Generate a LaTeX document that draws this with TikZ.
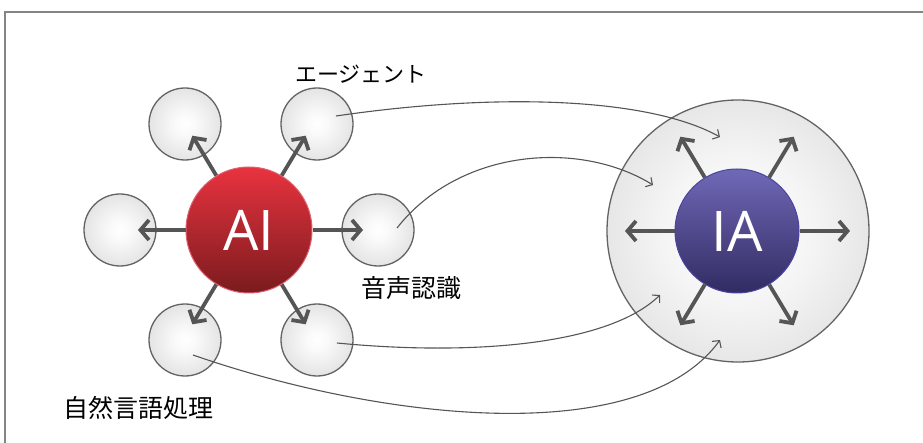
\documentclass[tikz,border=0pt]{standalone}
\usepackage{fontspec}
\newfontfamily\jp{Noto Sans CJK JP}
\newfontfamily\lab{Open Sans}
\usetikzlibrary{arrows.meta,calc}
\definecolor{arrgray}{HTML}{555555}
\definecolor{framegray}{HTML}{858585}
\definecolor{rimgray}{HTML}{636363}
\definecolor{aitop}{HTML}{E8333F}
\definecolor{aibot}{HTML}{7A1B1E}
\definecolor{aiedge}{HTML}{E06070}
\definecolor{iatop}{HTML}{7069B6}
\definecolor{iabot}{HTML}{312B63}
\definecolor{iaedge}{HTML}{4A44A0}
\pgfdeclareradialshading{softsmall}{\pgfpoint{0bp}{0bp}}{%
  color(0bp)=(white); color(7bp)=(white!98!black); color(24bp)=(white!90!black); color(35bp)=(white!80!black); color(50bp)=(white!80!black)}
\pgfdeclareradialshading{softbig}{\pgfpoint{0bp}{0bp}}{%
  color(0bp)=(white); color(14bp)=(white!96!black); color(26bp)=(white!90!black); color(35bp)=(white!81!black); color(50bp)=(white!81!black)}
\tikzset{
  smallc/.style={circle,draw=rimgray,line width=1.3pt,minimum size=72pt,inner sep=0pt,
    shading=softsmall},
  bigc/.style={circle,draw=rimgray,line width=1.3pt,minimum size=262pt,inner sep=0pt,
    shading=softbig},
  hubai/.style={circle,draw=aiedge,line width=1pt,minimum size=126pt,inner sep=0pt,
    top color=aitop,bottom color=aibot,text=white,font=\lab\fontsize{56}{60}\selectfont},
  hubia/.style={circle,draw=iaedge,line width=1pt,minimum size=124pt,inner sep=0pt,
    top color=iatop,bottom color=iabot,text=white,font=\lab\fontsize{56}{60}\selectfont},
  bigarrow/.style={draw=arrgray,line width=3.8pt,-{Straight Barb[length=8.5pt,width=20pt]}},
  link/.style={draw=arrgray,line width=1.1pt,-{Straight Barb[length=5pt,width=11pt]}},
  jplabel/.style={font=\jp\fontsize{25}{28}\selectfont,inner sep=0pt},
}
\begin{document}
\begin{tikzpicture}[x=1pt,y=-1pt]
\useasboundingbox (0,0) rectangle (923,443);
% frame
\draw[framegray,line width=2pt] (5,443) -- (5,12) -- (923,12);
% small circles
\node[smallc] (c1) at (185,124) {};
\node[smallc] (c2) at (317,124) {};
\node[smallc] (c3) at (120,230) {};
\node[smallc] (c4) at (378,230) {};
\node[smallc] (c5) at (185,340) {};
\node[smallc] (c6) at (317,340) {};
% AI hub
\node[hubai] (AI) at (249,230) {AI};
\coordinate (a1) at ($(AI)+(-121:110)$);
\coordinate (a2) at ($(AI)+(-59:110)$);
\coordinate (a3) at ($(AI)+(180:111)$);
\coordinate (a4) at ($(AI)+(0:114)$);
\coordinate (a5) at ($(AI)+(121:110)$);
\coordinate (a6) at ($(AI)+(59:110)$);
\foreach \t in {a1,a2,a3,a4,a5,a6} \draw[bigarrow] (AI) -- (\t);
% IA big circle and hub
\node[bigc] (B) at (738,231) {};
\node[hubia] (IA) at (737,231) {IA};
\coordinate (b1) at ($(IA)+(-121:110)$);
\coordinate (b2) at ($(IA)+(-59:110)$);
\coordinate (b3) at ($(IA)+(180:112)$);
\coordinate (b4) at ($(IA)+(0:113)$);
\coordinate (b5) at ($(IA)+(121:110)$);
\coordinate (b6) at ($(IA)+(59:110)$);
\foreach \t in {b1,b2,b3,b4,b5,b6} \draw[bigarrow] (IA) -- (\t);
% labels
\node[font=\jp\fontsize{22}{26}\selectfont,inner sep=0pt] (l1) at (361,74) {エージェント};
\node[jplabel] (l2) at (411,288) {音声認識};
\node[jplabel] (l3) at (138,408) {自然言語処理};
% links
\coordinate (s1) at ($(c2.center)+(19,-8)$);
\coordinate (s2) at ($(c4.center)+(19,-2)$);
\coordinate (s3) at ($(c6.center)+(20,3)$);
\coordinate (s4) at ($(c5.center)+(8,15)$);
\coordinate (e1) at (720,137);
\coordinate (e2) at (653,185);
\coordinate (e3) at (660,295);
\coordinate (e4) at (720,340);
\draw[link] (s1) .. controls (500,92) and (650,98) .. (e1);
\draw[link] (s2) .. controls (460,148) and (580,140) .. (e2);
\draw[link] (s3) .. controls (460,355) and (605,348) .. (e3);
\draw[link] (s4) .. controls (380,420) and (640,450) .. (e4);
\end{tikzpicture}
\end{document}
